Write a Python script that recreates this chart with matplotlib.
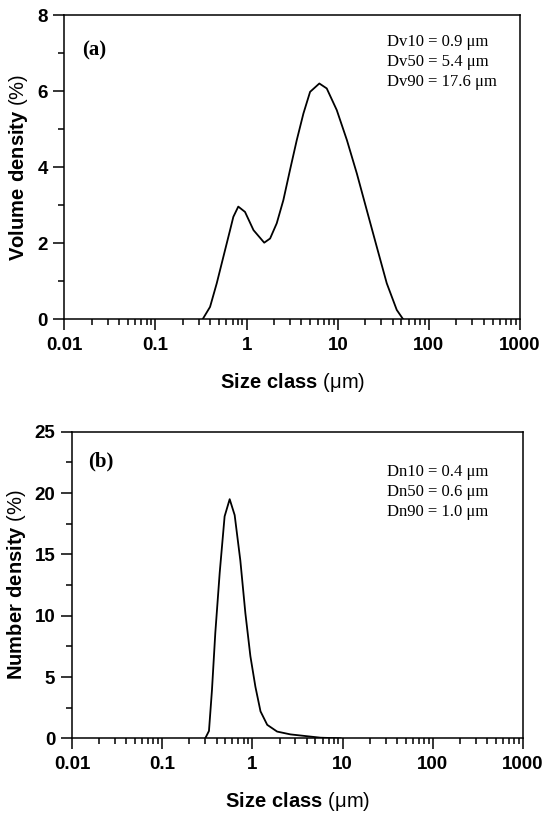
import matplotlib
matplotlib.use("Agg")
import matplotlib.pyplot as plt
from matplotlib.ticker import LogLocator, MultipleLocator, NullFormatter

plt.rcParams['font.family'] = ['Liberation Sans', 'DejaVu Sans']
plt.rcParams['mathtext.fontset'] = 'custom'
plt.rcParams['mathtext.rm'] = 'Liberation Sans'
plt.rcParams['mathtext.bf'] = 'Liberation Sans:bold'

# volume distribution (a)
size_a = [0.33, 0.397, 0.47, 0.556, 0.658, 0.715, 0.81, 0.96, 1.19, 1.56, 1.81,
          2.14, 2.53, 2.99, 3.55, 4.2, 4.97, 6.28, 7.57, 9.75, 12.6, 16.2,
          20.8, 26.8, 34.5, 44.4, 52]
vol_a = [0, 0.32, 0.94, 1.64, 2.34, 2.69, 2.96, 2.82, 2.34, 2.01, 2.12,
         2.52, 3.13, 3.92, 4.71, 5.41, 5.98, 6.20, 6.07, 5.5, 4.71, 3.83,
         2.87, 1.90, 0.94, 0.24, 0]

# number distribution (b)
size_b = [0.30, 0.33, 0.356, 0.388, 0.434, 0.492, 0.56, 0.636, 0.735, 0.836,
          0.95, 1.08, 1.23, 1.46, 1.88, 2.64, 4.05, 5.7, 9.5]
num_b = [0, 0.6, 3.9, 8.6, 13.5, 18.1, 19.5, 18.2, 14.5, 10.2,
         6.7, 4.2, 2.2, 1.1, 0.55, 0.32, 0.17, 0.05, 0]

xticks = [0.01, 0.1, 1, 10, 100, 1000]
xticklabels = ['0.01', '0.1', '1', '10', '100', '1000']

stats_a = ['Dv10 = 0.9 μm', 'Dv50 = 5.4 μm', 'Dv90 = 17.6 μm']
stats_b = ['Dn10 = 0.4 μm', 'Dn50 = 0.6 μm', 'Dn90 = 1.0 μm']

fig = plt.figure(figsize=(5.5, 8.16), dpi=100)
ax1 = fig.add_axes([0.117, 0.609, 0.8285, 0.3725])
ax2 = fig.add_axes([0.1309, 0.0952, 0.82, 0.3757])


def style_axis(ax, ymax, ymajor, ylabel):
    ax.set_xscale('log')
    ax.set_xlim(0.01, 1000)
    ax.set_ylim(0, ymax)
    ax.set_xticks(xticks)
    ax.set_xticklabels(xticklabels)
    ax.xaxis.set_minor_locator(LogLocator(base=10, subs=range(2, 10), numticks=20))
    ax.xaxis.set_minor_formatter(NullFormatter())
    ax.yaxis.set_major_locator(MultipleLocator(ymajor))
    ax.yaxis.set_minor_locator(MultipleLocator(ymajor / 2))
    for s in ax.spines.values():
        s.set_linewidth(1.1)
    ax.tick_params(which='major', length=8, width=1.1, labelsize=13.5)
    ax.tick_params(which='minor', length=4, width=1.1)
    ax.tick_params(axis='x', which='major', pad=5)
    ax.tick_params(axis='y', which='major', pad=4)
    for lab in ax.get_xticklabels() + ax.get_yticklabels():
        lab.set_fontweight('bold')
    ax.set_xlabel(r'$\mathbf{Size\ class}$ (μm)', fontsize=14.5, labelpad=12)
    ax.set_ylabel(ylabel, fontsize=14.5, labelpad=5)


ax1.plot(size_a, vol_a, color='black', lw=1.3)
style_axis(ax1, 8, 2, r'$\mathbf{Volume\ density}$ (%)')
ax1.text(0.039, 0.885, '(a)', transform=ax1.transAxes, fontsize=15,
         fontweight='bold', family='Liberation Serif', va='center')
for i, s in enumerate(stats_a):
    ax1.text(0.708, 0.899 - i * 0.0658, s, transform=ax1.transAxes,
             fontsize=12, family='Liberation Serif', va='baseline')

ax2.plot(size_b, num_b, color='black', lw=1.3)
style_axis(ax2, 25, 5, r'$\mathbf{Number\ density}$ (%)')
ax2.text(0.035, 0.904, '(b)', transform=ax2.transAxes, fontsize=15,
         fontweight='bold', family='Liberation Serif', va='center')
for i, s in enumerate(stats_b):
    ax2.text(0.699, 0.8565 - i * 0.0652, s, transform=ax2.transAxes,
             fontsize=12, family='Liberation Serif', va='baseline')

fig.savefig('out.png', dpi=100)
